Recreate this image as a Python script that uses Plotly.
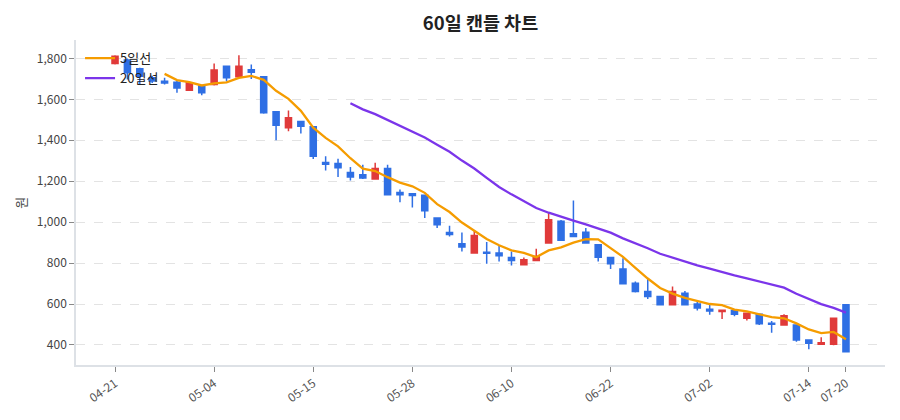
import plotly.graph_objects as go
import pandas as pd

dates = ["04-21","04-22","04-24","04-25","04-26","04-27","04-28","05-02","05-04","05-05",
         "05-06","05-08","05-09","05-10","05-11","05-12","05-15","05-16","05-17","05-18",
         "05-19","05-22","05-23","05-25","05-28","05-29","05-30","05-31","06-01","06-03",
         "06-05","06-07","06-10","06-11","06-12","06-13","06-14","06-16","06-18","06-20",
         "06-22","06-23","06-24","06-26","06-27","06-28","06-29","06-30","07-02","07-03",
         "07-05","07-06","07-08","07-09","07-10","07-12","07-14","07-15","07-17","07-20"]

opens  = [1775,1792,1750,1705,1688,1684,1645,1665,1672,1762,
          1710,1745,1710,1539,1461,1492,1466,1292,1286,1243,
          1232,1211,1262,1145,1139,1131,1020,950,894,849,
          853,849,827,792,813,898,1004,943,951,889,
          827,771,702,661,637,597,653,600,575,563,
          568,530,550,506,498,498,424,403,403,596]
highs  = [1815,1800,1755,1715,1705,1690,1683,1668,1775,1765,
          1815,1770,1712,1540,1546,1495,1470,1322,1310,1270,
          1281,1290,1281,1159,1140,1131,1020,982,950,958,
          903,885,857,827,870,1045,1010,1106,971,889,
          827,824,710,722,637,685,664,612,596,570,
          568,557,553,517,550,498,424,437,533,598]
lows   = [1770,1697,1673,1680,1672,1632,1645,1620,1668,1689,
          1705,1700,1530,1400,1444,1433,1309,1252,1221,1204,
          1211,1211,1134,1097,1072,1020,971,930,857,849,
          797,808,788,792,813,898,911,930,898,808,
          771,699,656,624,597,597,596,568,547,527,
          540,519,498,460,498,416,379,403,398,367]
closes = [1810,1730,1713,1690,1680,1656,1681,1632,1743,1705,
          1762,1733,1534,1474,1510,1469,1322,1283,1266,1221,
          1216,1262,1134,1134,1130,1056,987,940,878,935,
          848,836,813,816,832,1012,911,930,898,829,
          797,699,661,637,597,661,596,580,566,570,
          550,555,503,501,543,424,408,411,531,367]

tick_dates = ["04-21","05-04","05-15","05-28","06-10","06-22","07-02","07-14","07-20"]

s = pd.Series(closes, dtype=float)
ma5 = s.rolling(5).mean()
ma20 = s.rolling(20).mean()

RED = "#e03a3a"
BLUE = "#2f6fe4"

fig = go.Figure()
fig.add_trace(go.Candlestick(
    x=dates, open=opens, high=highs, low=lows, close=closes,
    increasing=dict(line=dict(color=RED, width=1.5), fillcolor=RED),
    decreasing=dict(line=dict(color=BLUE, width=1.5), fillcolor=BLUE),
    whiskerwidth=0, showlegend=False, name="캔들"))
fig.add_trace(go.Scatter(x=dates, y=ma5, mode="lines", name="5일선",
                         line=dict(color="#f59c00", width=2.3)))
fig.add_trace(go.Scatter(x=dates, y=ma20, mode="lines", name="20일선",
                         line=dict(color="#7b35ea", width=2.3)))

font_family = "Noto Sans CJK KR, Noto Sans, sans-serif"
fig.update_layout(
    width=900, height=420,
    margin=dict(l=76, r=15, t=40, b=55),
    paper_bgcolor="white", plot_bgcolor="white",
    font=dict(family=font_family, size=12, color="#444"),
    title=dict(text="<b>60일 캔들 차트</b>", x=0.5, xref="paper", y=0.945, yref="container",
               xanchor="center", yanchor="middle",
               font=dict(size=18.5, color="#222", family=font_family)),
    legend=dict(x=0.005, y=0.99, xanchor="left", yanchor="top",
                bgcolor="rgba(0,0,0,0)", font=dict(size=13, color="#222"),
                tracegroupgap=0, itemwidth=30),
    showlegend=True,
    annotations=[dict(text="원", xref="paper", yref="paper", x=-0.069, y=0.5,
                      xanchor="center", yanchor="middle", textangle=-90, showarrow=False,
                      font=dict(size=13, color="#444", family=font_family))],
)
fig.update_xaxes(
    type="category", rangeslider=dict(visible=False),
    range=[-3.15, 62.15],
    tickmode="array", tickvals=tick_dates, ticktext=tick_dates,
    tickangle=-35, tickfont=dict(size=12, color="#555"),
    showgrid=False, showline=True, linecolor="#dde1e6", linewidth=1.5,
    ticks="outside", ticklen=5, tickcolor="#888",
)
fig.update_yaxes(
    range=[302, 1890],
    tickformat=",", tickvals=[400,600,800,1000,1200,1400,1600,1800],
    tickfont=dict(size=12, color="#444"),
    showgrid=True, gridcolor="#e3e3e3", griddash="dash", gridwidth=1,
    showline=True, linecolor="#dde1e6", linewidth=1.5,
    ticks="outside", ticklen=5, tickcolor="#888", zeroline=False,
)
fig.write_html("out.html")
